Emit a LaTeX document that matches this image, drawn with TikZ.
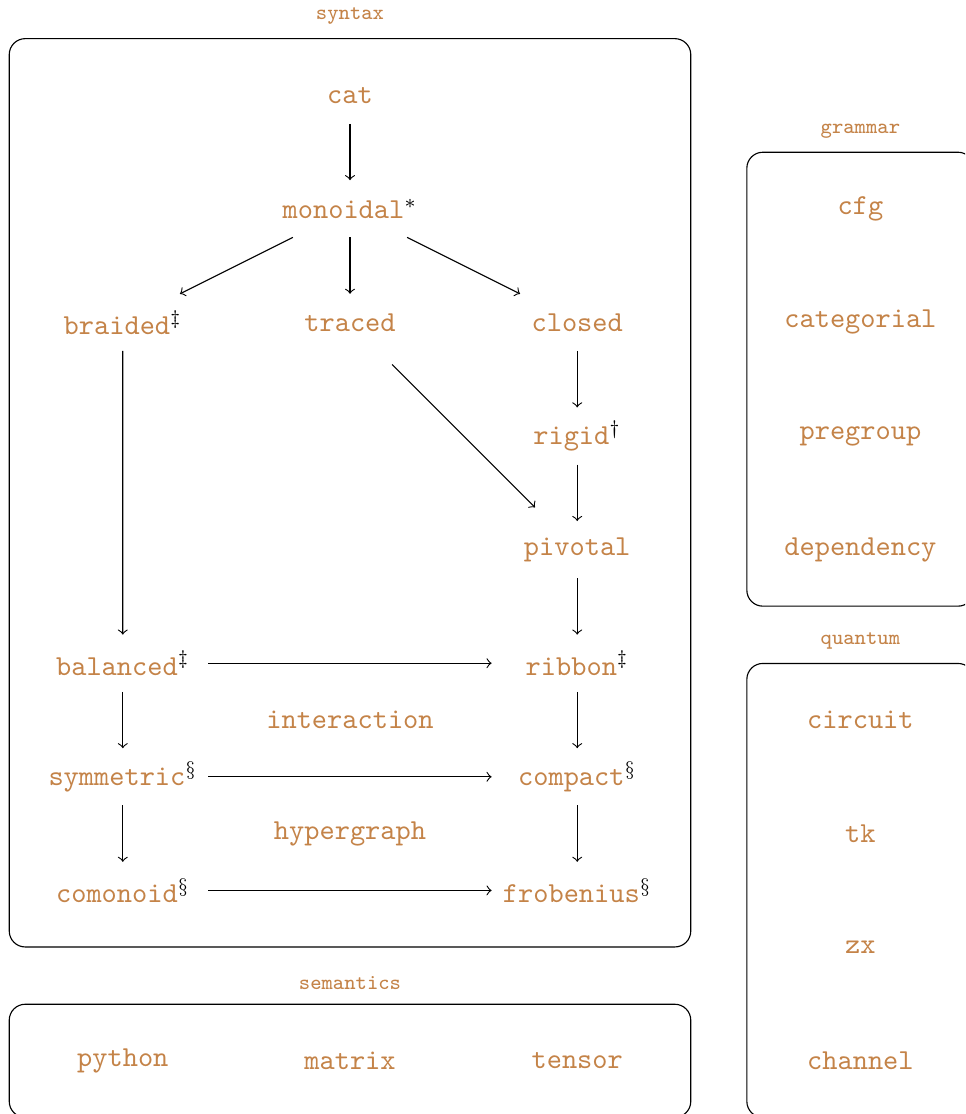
\documentclass[tikz,border=0pt]{standalone}
\usepackage{amsmath}
\usepackage{amssymb}
\usepackage{tikz}
\usetikzlibrary{positioning, fit}
\definecolor{labelbrown}{RGB}{196,131,72}
\tikzset{
->, % all edges are directed
>=to, % thin arrow heads
node distance=1.42cm, % vertical step between two rows
every node/.style={font=\ttfamily\fontsize{10.3}{12}\selectfont, text=labelbrown},
cell/.style={minimum width=2.125cm, minimum height=0.7cm, inner sep=0pt}, % one entry of a box
group/.style={draw, rounded corners=0.2cm, inner sep=0.35cm}, % the boxes
title/.style={font=\ttfamily\fontsize{7.6}{9}\selectfont, text=labelbrown, yshift=1.3pt}, % box names
}

\begin{document}
\begin{tikzpicture}
        \clip (0,0) rectangle (12.0625,-13.925);

        % syntax
        \node[cell] (cat) at (4.375,-1.19) {cat};
        \node[cell, below of=cat] (monoidal) {monoidal\textcolor{black}{$^*$}};
        \node[cell, below of=monoidal] (traced) {traced};
        \node[cell, left of=traced, node distance=2.84cm] (braided) {braided\textcolor{black}{$^\ddagger$}};
        \node[cell, right of=traced, node distance=2.84cm] (closed) {closed};
        \node[cell, below of=closed] (rigid) {rigid\textcolor{black}{$^\dagger$}};
        \node[cell, below of=rigid] (pivotal) {pivotal};
        \node[cell, below of=pivotal] (ribbon) {ribbon\textcolor{black}{$^\ddagger$}};
        \node[cell, below of=ribbon] (compact) {compact\textcolor{black}{$^\S$}};
        \node[cell, below of=compact] (frobenius) {frobenius\textcolor{black}{$^\S$}};
        \node[cell, left of=ribbon, node distance=5.68cm] (balanced) {balanced\textcolor{black}{$^\ddagger$}};
        \node[cell, below of=balanced] (symmetric) {symmetric\textcolor{black}{$^\S$}};
        \node[cell, below of=symmetric] (comonoid) {comonoid\textcolor{black}{$^\S$}};
        \node[cell, below of=traced, node distance=4.97cm] (interaction) {interaction};
        \node[cell, below of=interaction] (hypergraph) {hypergraph};

        % grammar
        \node[cell, right of=closed, node distance=3.54cm] (categorial) {categorial};
        \node[cell, above of=categorial] (cfg) {cfg};
        \node[cell, below of=categorial] (pregroup) {pregroup};
        \node[cell, below of=pregroup] (dependency) {dependency};

        % quantum
        \node[cell, below of=dependency, node distance=2.13cm] (circuit) {circuit};
        \node[cell, below of=circuit] (tk) {tk};
        \node[cell, below of=tk] (zx) {zx};
        \node[cell, below of=zx] (channel) {channel};

        % semantics
        \node[cell, below of=comonoid, node distance=2.13cm] (python) {python};
        \node[cell, right of=python, node distance=2.84cm] (matrix) {matrix};
        \node[cell, right of=matrix, node distance=2.84cm] (tensor) {tensor};

        \node[group, fit=(cat)(braided)(closed)(comonoid)(frobenius), label={[title]above:syntax}] (syntax) {};
        \node[group, fit=(cfg)(dependency), label={[title]above:grammar}] (grammar) {};
        \node[group, fit=(circuit)(channel), label={[title]above:quantum}] (quantum) {};
        \node[group, fit=(python)(tensor), label={[title]above:semantics}] (semantics) {};

        \draw (cat) edge (monoidal)
        (monoidal) edge (braided)
        (monoidal) edge (traced)
        (monoidal) edge (closed)
        (closed) edge (rigid)
        (rigid) edge (pivotal)
        (traced) edge[shorten <=0.24cm, shorten >=0.24cm] (pivotal)
        (pivotal) edge (ribbon)
        (braided) edge (balanced)
        (balanced) edge (ribbon)
        (ribbon) edge (compact)
        (compact) edge (frobenius)
        (balanced) edge (symmetric)
        (symmetric) edge (compact)
        (symmetric) edge (comonoid)
        (comonoid) edge (frobenius);
      \end{tikzpicture}
\end{document}
